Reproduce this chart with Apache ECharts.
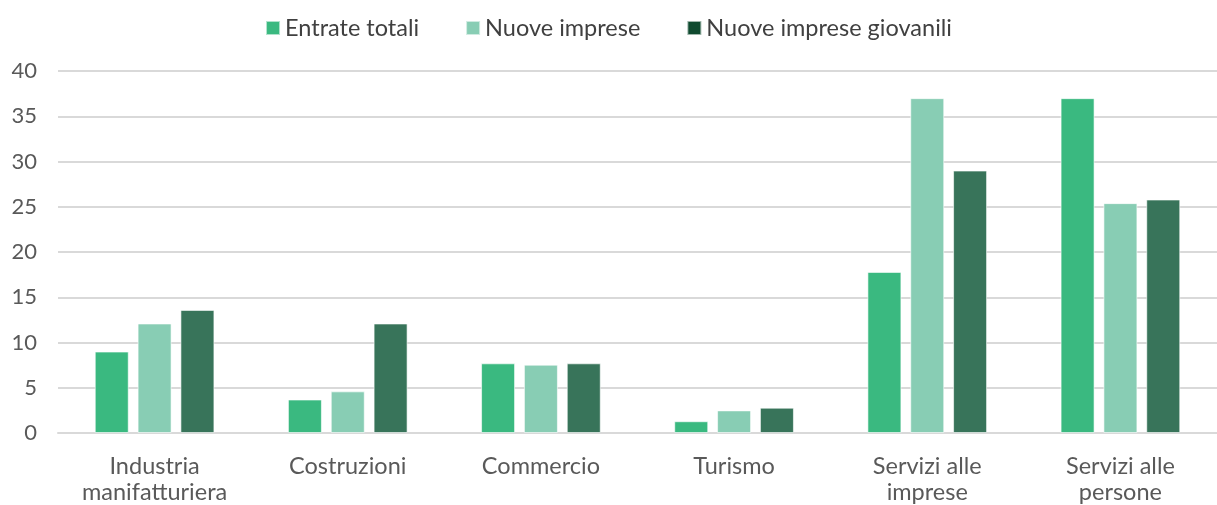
<!DOCTYPE html>
<html>
<head>
<meta charset="utf-8">
<script src="https://cdn.jsdelivr.net/npm/echarts@6/dist/echarts.min.js"></script>
<style>
  html, body { margin: 0; padding: 0; background: #fff; }
  #chart { width: 1217px; height: 505px; }
</style>
</head>
<body>
<div id="chart"></div>
<script>
// categorie (asse x)
const categories = ['Industria\nmanifatturiera', 'Costruzioni', 'Commercio', 'Turismo', 'Servizi alle\nimprese', 'Servizi alle\npersone']
// valori delle serie
const entrateTotali = [9.0, 3.7, 7.7, 1.3, 17.8, 37.0]
const nuoveImprese = [12.1, 4.6, 7.55, 2.5, 37.0, 25.4]
const nuoveImpreseGiovanili = [13.6, 12.1, 7.7, 2.8, 29.0, 25.8]
const seriesNames = ['Entrate totali', 'Nuove imprese', 'Nuove imprese giovanili']

const font = 'Lato, "Noto Sans", sans-serif'
let chart = echarts.init(document.getElementById('chart'), null, { renderer: 'canvas' })

function bar(name, data, color) {
  return {
    name: name,
    type: 'bar',
    data: data,
    barWidth: 34,
    barGap: '26%',
    itemStyle: { color: color, borderColor: 'rgba(255,255,255,0.6)', borderWidth: 1 }
  }
}

var option = {
  animation: false,
  legend: {
    top: 11,
    left: 'center',
    itemWidth: 14,
    itemHeight: 14,
    itemGap: 46,
    icon: 'rect',
    textStyle: { fontFamily: font, fontSize: 23.5, color: '#404040' },
    data: [
      { name: seriesNames[0], itemStyle: { color: '#3ab980' } },
      { name: seriesNames[1], itemStyle: { color: '#88cdb4' } },
      { name: seriesNames[2], itemStyle: { color: '#0f4a2f' } }
    ]
  },
  grid: {
    left: 58,
    right: -5,
    top: 71,
    bottom: 72,
    containLabel: false
  },
  xAxis: {
    type: 'category',
    data: categories,
    axisLine: { show: true, lineStyle: { color: '#d9d9d9', width: 2 } },
    axisTick: { show: false },
    axisLabel: {
      fontFamily: font,
      fontSize: 23.5,
      color: '#595959',
      lineHeight: 26,
      margin: 20,
      interval: 0
    }
  },
  yAxis: {
    type: 'value',
    min: 0,
    max: 40,
    interval: 5,
    axisLine: { show: false },
    axisTick: { show: false },
    splitLine: { lineStyle: { color: '#d9d9d9', width: 2 } },
    axisLabel: {
      fontFamily: font,
      fontSize: 22,
      color: '#595959',
      margin: 21
    }
  },
  series: [
    bar(seriesNames[0], entrateTotali, '#3ab980'),
    bar(seriesNames[1], nuoveImprese, '#88cdb4'),
    bar(seriesNames[2], nuoveImpreseGiovanili, '#38745a')
  ]
}
chart.setOption(option)
</script>
</body>
</html>
